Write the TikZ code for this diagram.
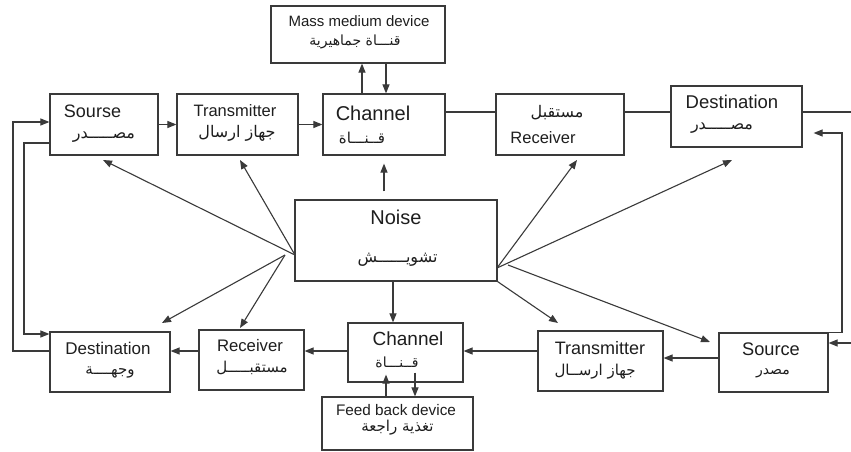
\documentclass[tikz,border=0pt]{standalone}
\usepackage{fontspec}
\setmainfont{Liberation Sans}
\newfontfamily\ar[Script=Arabic]{DejaVu Sans}
\TeXXeTstate=1
\usetikzlibrary{arrows.meta,calc}
\definecolor{lnc}{HTML}{3A3A3A}
\definecolor{txc}{HTML}{1E1E1E}
\newcommand{\fs}[1]{\fontsize{#1}{#1}\selectfont}
\newcommand{\AR}[1]{{\ar\beginR #1\endR}}
\begin{document}
\begin{tikzpicture}[x=1pt,y=-1pt,
  box/.style={draw=lnc, line width=1.2pt, rectangle, inner sep=0pt},
  lbl/.style={inner sep=0pt, text=txc, anchor=center},
  arr/.style={draw=lnc, line width=1.1pt, -{Triangle[length=9pt,width=7pt]}},
  plain/.style={draw=lnc, line width=1.1pt}]
\useasboundingbox[fill=white] (0,0) rectangle (851,452);

% boxes
\node[box, minimum width=174pt, minimum height=57pt] (mass) at (358,34.5) {};
\node[box, minimum width=108pt, minimum height=61pt] (srcT) at (104,124.5) {};
\node[box, minimum width=121pt, minimum height=61pt] (trT) at (237.5,124.5) {};
\node[box, minimum width=122pt, minimum height=61pt] (chT) at (384,124.5) {};
\node[box, minimum width=128pt, minimum height=61pt] (rcT) at (560,124.5) {};
\node[box, minimum width=131pt, minimum height=61pt] (dsT) at (736.5,116.5) {};
\node[box, minimum width=202pt, minimum height=81pt] (noise) at (396,240.5) {};
\node[box, minimum width=120pt, minimum height=60pt] (dsB) at (110,362) {};
\node[box, minimum width=105pt, minimum height=60pt] (rcB) at (251.5,360) {};
\node[box, minimum width=115pt, minimum height=59pt] (chB) at (405.5,352.5) {};
\node[box, minimum width=151pt, minimum height=53pt] (fb) at (397.5,423.5) {};
\node[box, minimum width=125pt, minimum height=60pt] (trB) at (600.5,361) {};
\node[box, minimum width=109pt, minimum height=59pt] (srcB) at (773.5,362.5) {};

% labels
\node[lbl] (massE) at (359,21) {\fs{15}Mass medium device};
\node[lbl] (massA) at (355,42) {\fs{14}\AR{قنـــاة جماهيرية}};
\node[lbl] (srcTE) at (92.5,111) {\fs{18}Sourse};
\node[lbl] (srcTA) at (104,137) {\fs{16}\AR{مصـــــدر}};
\node[lbl] (trTE) at (235,111) {\fs{16.5}Transmitter};
\node[lbl] (trTA) at (237,133) {\fs{16}\AR{جهاز ارسال}};
\node[lbl] (chTE) at (373,113) {\fs{20}Channel};
\node[lbl] (chTA) at (362,138) {\fs{15}\AR{قــنـــاة}};
\node[lbl] (rcTA) at (557,113) {\fs{16}\AR{مستقبل}};
\node[lbl] (rcTE) at (543,138) {\fs{16.5}Receiver};
\node[lbl] (dsTE) at (732,102) {\fs{18.5}Destination};
\node[lbl] (dsTA) at (722,128) {\fs{16}\AR{مصـــــدر}};
\node[lbl] (noiseE) at (396,217) {\fs{20}Noise};
\node[lbl] (noiseA) at (397.5,260) {\fs{16}\AR{تشويــــــش}};
\node[lbl] (dsBE) at (108,348) {\fs{17}Destination};
\node[lbl] (dsBA) at (110,372) {\fs{15}\AR{وجهــــة}};
\node[lbl] (rcBE) at (250,346) {\fs{16.7}Receiver};
\node[lbl] (rcBA) at (252,368) {\fs{15}\AR{مستقبـــــل}};
\node[lbl] (chBE) at (408,339) {\fs{19}Channel};
\node[lbl] (chBA) at (397,362) {\fs{14}\AR{قــنـــاة}};
\node[lbl] (fbE) at (396,410) {\fs{15.3}Feed back device};
\node[lbl] (fbA) at (397.5,428) {\fs{15}\AR{تغذية راجعة}};
\node[lbl] (trBE) at (600,348) {\fs{18}Transmitter};
\node[lbl] (trBA) at (595,372) {\fs{15}\AR{جهاز ارســال}};
\node[lbl] (srcBE) at (771,349) {\fs{18.2}Source};
\node[lbl] (srcBA) at (773,373) {\fs{14}\AR{مصدر}};

% helper coordinates
\coordinate (yTop) at (0,112);
\coordinate (edgeR1) at (851,112);
\coordinate (edgeR2) at (851,343);
\coordinate (vr) at (842,133);
\coordinate (lx1) at (13,0);
\coordinate (lx2) at (24,0);
\coordinate (yl1) at (0,351);
\coordinate (yl2) at (0,122);
\coordinate (yl3) at (0,143);
\coordinate (yl4) at (0,334);
\coordinate (xm1) at (362,0);
\coordinate (xm2) at (386,0);
\coordinate (xn) at (393,0);
\coordinate (xf1) at (386,0);
\coordinate (xf2) at (415,0);
\coordinate (yb) at (0,351);
\coordinate (yb2) at (0,358);
\coordinate (nL) at (295,255);
\coordinate (nL2) at (285,255);
\coordinate (nR) at (497,268);
\coordinate (nR2) at (508,265);
\coordinate (tSrcT) at (103,160);
\coordinate (tTrT) at (240,160);
\coordinate (tDsB) at (162,323);
\coordinate (tRcB) at (240,328);
\coordinate (tRcT) at (577,160);
\coordinate (tDsT) at (732,160);
\coordinate (tTrB) at (558,323);
\coordinate (tSrcB) at (710,342);

% top row
\draw[arr] (srcT.east) -- (trT.west);
\draw[arr] (trT.east) -- (chT.west);
\draw[plain] (chT.east|-yTop) -- (rcT.west|-yTop);
\draw[plain] (rcT.east|-yTop) -- (dsT.west|-yTop);
\draw[plain] (dsT.east|-yTop) -- (edgeR1);
\draw[arr] (edgeR2) -- (srcB.east|-edgeR2);
\draw[arr, shorten >=11pt] (srcB.north east) -- (srcB.north east-|vr) -- (vr) -- (dsT.east|-vr);

% mass medium
\draw[arr] (chT.north-|xm1) -- (mass.south-|xm1);
\draw[arr] (mass.south-|xm2) -- (chT.north-|xm2);

% left loops
\draw[arr] (dsB.west|-yl1) -- (lx1|-yl1) -- (lx1|-yl2) -- (srcT.west|-yl2);
\draw[arr] (srcT.west|-yl3) -- (lx2|-yl3) -- (lx2|-yl4) -- (dsB.west|-yl4);

% noise to channels
\draw[arr, shorten <=8pt, shorten >=8pt] (noise.north-|chT.south) -- (chT.south);
\draw[arr] (noise.south-|xn) -- (chB.north-|xn);

% fan
\draw[arr] (nL) -- (tSrcT);
\draw[arr] (nL) -- (tTrT);
\draw[arr] (nL2) -- (tDsB);
\draw[arr] (nL2) -- (tRcB);
\draw[arr] (nR) -- (tRcT);
\draw[arr] (nR) -- (tDsT);
\draw[arr] (noise.south east) -- (tTrB);
\draw[arr] (nR2) -- (tSrcB);

% bottom row
\draw[arr] (srcB.west|-yb2) -- (trB.east|-yb2);
\draw[arr] (trB.west|-yb) -- (chB.east|-yb);
\draw[arr] (chB.west|-yb) -- (rcB.east|-yb);
\draw[arr] (rcB.west|-yb) -- (dsB.east|-yb);

% feedback
\draw[arr] (fb.north-|xf1) -- ([yshift=8pt]chB.south-|xf1);
\draw[arr] ([yshift=10pt]chB.south-|xf2) -- (fb.north-|xf2);
\end{tikzpicture}
\end{document}
